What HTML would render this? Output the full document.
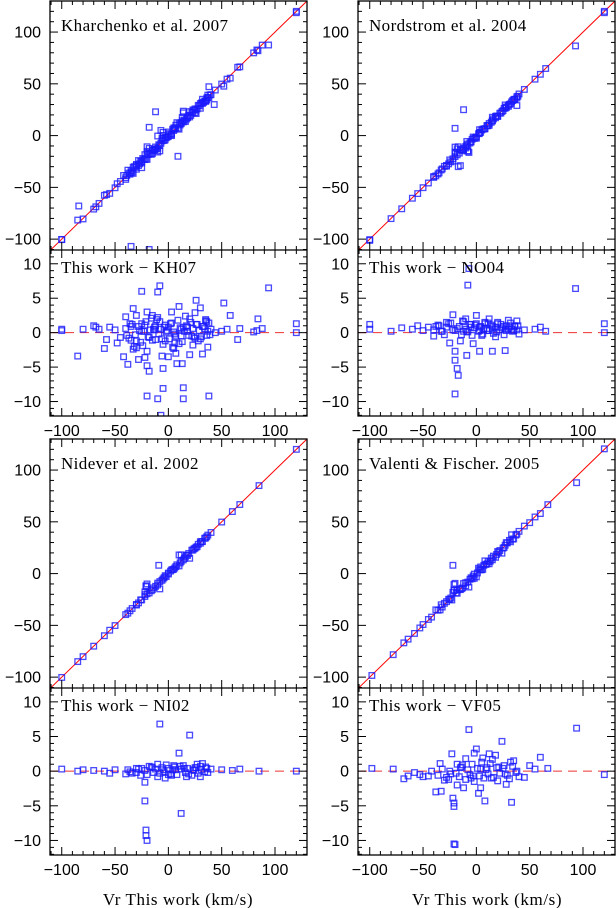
<!DOCTYPE html>
<html><head><meta charset="utf-8"><style>
html,body{margin:0;padding:0;background:#fff;}
svg{display:block;font-family:"Liberation Serif",serif;}
</style></head><body>
<svg id="chart" width="616" height="908" viewBox="0 0 616 908" xmlns="http://www.w3.org/2000/svg"></svg>
<script>
// ---- data ----
const xTicks = [-100, -50, 0, 50, 100];
const topTicks = [-100, -50, 0, 50, 100];
const resTicks = [-10, -5, 0, 5, 10];
const titles = ["Kharchenko et al. 2007", "Nordstrom et al. 2004", "Nidever et al. 2002", "Valenti & Fischer. 2005"];
const resTitles = ["This work − KH07", "This work − NO04", "This work − NI02", "This work − VF05"];

const kh07X = [-100,-100,-85,-80,-70,-68,-65,-60,-58,-55,-50,-48,-45,-42,-40,-38,-35,-33,-32,-30,-30,-28,-25,-25,-22,-20,-20,-20,-18,-15,-13,-12,-10,-8,-10,-7,-6,-5,-5,-3,0,3,5,7,8,10,12,13,14,14,18,20,23,25,26,30,32,35,37,38,40,44,52,50,55,58,65,67,80,83,84,88,94,120,120,
 -40,-37,-34,-31,-28,-26,-23,-21,-19,-17,-15,-13,-11,-9,-7,-5,-3,-1,1,3,5,7,9,11,13,15,17,19,21,23,25,27,29,31,33,35,37,39,-36,-24,-16,-4,6,16,28,36,
 -39,-35,-30,-27,-22,-18,-14,-10,-6,-2,2,6,10,14,18,22,26,30,34,38,-33,-25,-20,-12,-8,0,4,12,20,24,32,36];
const kh07R = [0.5,0.3,-3.4,0.5,1,0.8,0.5,-2.3,-1,0.8,0.4,-1.5,-0.7,-3.5,2.3,-4.6,-1.1,3.5,-2,-2.2,2.5,-3.9,6,1.3,-3.6,-4.8,-2.7,-9.2,-5.6,2.5,0.4,1,5.9,6.8,-9.6,-12,-3.4,-8.1,-5.2,-1.2,-3.5,3,-2.3,-3,-4.5,3.8,-0.5,-4.5,-8,-9.6,0.8,-3.2,-1.8,2.9,4.7,3.6,-3.1,1.9,-2.1,-9.2,0.5,0,4.3,0.2,0.5,2.5,-1,0.6,0.1,0.3,2,0.6,6.5,1.3,0,
 0.6,-0.8,1.2,-0.3,0.9,-1.4,0.2,1.6,-0.6,0.4,-1.1,0.8,1.9,-0.2,0.5,-1.7,1.1,0.3,-0.9,1.4,0.1,-0.5,1.8,0.7,-1.3,0.2,1,-0.4,1.5,0.6,-0.8,1.2,0.3,-0.6,0.9,1.7,0.2,-0.3,1.3,-1.9,2.1,0.8,-1.5,2.4,-1.2,1.6,
 -0.4,0.9,-1.2,0.3,1.1,-0.7,0.5,2.2,-0.9,0.1,1.3,-0.2,-1.6,0.8,0.2,-0.5,1.2,-0.9,0.6,1.4,-2.4,0.2,3,-1,1.6,0.8,-2.1,0.5,2,-0.6,0.9,-0.4];
const kh07OutX = [-84,-12,-18,9,43,-35,-18];
const kh07OutY = [-68,23,8,-20,30,-107,-110];

const no04X = [-100,-100,-80,-70,-60,-55,-50,-45,-40,-35,-30,-28,-25,-22,-20,-20,-18,-17,-20,-15,-12,-10,-8,-7,-5,-3,0,3,5,8,10,12,15,18,20,25,28,30,33,36,38,40,45,55,60,65,93,120,120,
 -40,-36,-32,-28,-24,-20,-16,-14,-12,-10,-8,-6,-4,-2,0,2,4,6,8,10,12,14,16,18,20,22,24,26,28,30,32,34,36,38,-9,3,15,27,
 -38,-33,-26,-22,-18,-13,-9,-5,-1,3,7,11,15,19,23,27,31,35,39];
const no04R = [0.5,1.2,0.2,0.7,0.5,1,0.3,0.8,-0.5,1,-0.3,1.5,-1.5,0.4,-2.7,-4,-5.2,-6.2,-8.9,-1.2,0.2,2,6.9,9.3,1.2,-1.6,2.5,0.8,-0.4,1.3,0.3,2,0.5,-0.6,1.5,0.9,0.3,1.8,0.5,1,0.4,-0.2,0.4,0.5,0.8,0.2,6.4,1.3,0,
 0.4,1.1,0.2,0.8,1.4,0.3,0.9,-0.3,1.6,0.5,0.1,1.2,-0.4,0.7,1.3,0.2,0.9,-0.2,1.5,0.6,0.3,1.1,-0.1,0.8,1.3,0.4,0.7,-0.3,1,0.5,1.4,0.2,0.9,1.7,-3.3,-2.7,-2.7,-2.6,
 0.9,0.2,1.3,2.6,0.6,1.7,0.2,0.8,1.1,0.3,0.6,1.4,0.9,0.1,1.2,0.5,0.8,0.3,1];
const no04OutX = [-12,-20,-17,-15,-8,38];
const no04OutY = [25,7,-30,-29,-15,29];

const ni02X = [-100,-85,-80,-70,-60,-55,-50,-40,-30,-25,-22,-22,-21,-21,-20,-15,-10,-8,-5,-3,0,5,10,12,15,17,20,23,27,30,35,40,50,60,67,85,120,
 -38,-34,-30,-26,-22,-18,-14,-12,-10,-6,-4,-2,2,4,6,8,12,14,16,18,22,24,26,28,30,32,34,36,
 -36,-28,-20,-16,-8,0,3,7,11,19,25,31,37];
const ni02R = [0.3,0,0.2,0.1,0,-0.3,0.2,-0.4,-0.2,0.4,-1.6,-4.3,-8.5,-9.3,-10,0.5,1,6.8,0.2,-1,-0.5,0.8,2.6,-6.1,0.4,-0.8,5.2,0.2,1,-0.8,0.6,0.3,0.2,0.1,0.3,0,0,
 0.2,-0.3,0.4,-0.6,0.1,0.7,-0.2,0.3,-0.8,0.5,-0.1,0.9,-0.4,0.2,0.6,-0.5,0.3,0.8,-0.2,0.4,-0.6,0.1,0.5,-0.3,0.7,1.1,-0.1,0.4,
 -0.1,0.3,-0.5,0.6,-0.3,0.4,-0.6,0.2,0.7,-0.4,0.5,0.2,-0.2];
const ni02OutX = [-9,10];
const ni02OutY = [8,18];

const vf05X = [-98,-78,-68,-64,-58,-53,-50,-45,-42,-38,-34,-33,-30,-25,-23,-22,-21,-21,-21,-20,-18,-18,-15,-12,-10,-7,-5,-2,0,2,4,6,8,10,12,15,18,20,24,25,28,33,35,38,40,45,50,55,60,67,94,120,
 -36,-32,-28,-24,-16,-14,-10,-8,-6,-4,-2,1,3,5,7,9,11,13,16,19,22,26,29,31,34,37,
 -26,-19,-13,-3,4,14,21,27,32];
const vf05R = [0.4,0.3,-1.1,-0.7,-0.2,-0.5,-0.8,-0.7,0,-3,1.1,-2.9,-1.3,0,2.5,-3.9,-4.6,-5.1,-10.5,-10.6,1,-2,0.5,-2.4,1.8,6,-1,2.6,3.2,-3.2,-2.4,1.9,-4.3,0.5,2.5,1.7,2.3,-1.4,4.3,0.4,-1.9,-4.5,1.5,0,-0.8,-0.9,0.8,0.3,2,0.4,6.2,-0.5,
 -0.6,0.3,-0.9,-0.4,-0.8,0.6,-1.2,0.2,-0.5,1,-1.5,0.4,-0.7,1.3,-1,0.2,-0.4,1.1,-0.9,0.5,-0.3,0.8,-0.6,-1.1,0.7,-0.2,
 -1.2,-0.3,0.9,-0.7,0.3,-1,0.6,-0.4,1.3];
const vf05OutX = [-22];
const vf05OutY = [8];

const allX = [kh07X, no04X, ni02X, vf05X];
const allR = [kh07R, no04R, ni02R, vf05R];
const allOutX = [kh07OutX, no04OutX, ni02OutX, vf05OutX];
const allOutY = [kh07OutY, no04OutY, ni02OutY, vf05OutY];

// ---- drawing ----
const NS = "http://www.w3.org/2000/svg";
const svg = document.getElementById("chart");
function mk(tag, attrs, parent) {
  const e = document.createElementNS(NS, tag);
  for (const k in attrs) e.setAttribute(k, attrs[k]);
  (parent || svg).appendChild(e);
  return e;
}
const XMIN = -111, XMAX = 130, TMIN = -110.5, TMAX = 130, RMIN = -12.1, RMAX = 12;
const cols = [{l: 50, r: 307}, {l: 358, r: 615}];
const rows = [{t: 1, m: 250, b: 416}, {t: 439, m: 688, b: 855}];
const fmt = v => (v < 0 ? "−" + Math.abs(v) : "" + v);
const SANS = '"Liberation Sans", sans-serif';

for (let p = 0; p < 4; p++) {
  const c = cols[p % 2], r = rows[Math.floor(p / 2)];
  const g = mk("g", {});
  
  
  const sx = v => c.l + (v - XMIN) / (XMAX - XMIN) * (c.r - c.l);
  const sy = v => r.m - (v - TMIN) / (TMAX - TMIN) * (r.m - r.t);
  const sr = v => r.b - (v - RMIN) / (RMAX - RMIN) * (r.b - r.m);

  const cpT = mk("clipPath", {id: "ct" + p}, g);
  mk("rect", {x: c.l, y: r.t, width: c.r - c.l, height: r.m - r.t}, cpT);
  const cpR = mk("clipPath", {id: "cr" + p}, g);
  mk("rect", {x: c.l, y: r.m, width: c.r - c.l, height: r.b - r.m}, cpR);

  const ol = mk("line", {x1: sx(XMIN), y1: sy(XMIN), x2: sx(XMAX), y2: sy(XMAX), stroke: "#f00", "stroke-width": 1, "clip-path": "url(#ct" + p + ")"}, g);
  
  
  const zl = mk("line", {x1: c.l, y1: sr(0), x2: c.r, y2: sr(0), stroke: "#e33", "stroke-width": 1, "stroke-dasharray": "9,6"}, g);
  
  

  const xs = allX[p], rs = allR[p];
  const gt = mk("g", {"clip-path": "url(#ct" + p + ")"}, g);
  const gr = mk("g", {"clip-path": "url(#cr" + p + ")"}, g);
  const sq = (parent, x, y, name) => {
    const s = mk("rect", {x: x - 2.8, y: y - 2.8, width: 5.6, height: 5.6, fill: "none", stroke: "#1a1aff", "stroke-opacity": 0.8, "stroke-width": 1.3}, parent);
    
    
  };
  for (let i = 0; i < xs.length; i++) {
    sq(gt, sx(xs[i]), sy(xs[i] - rs[i]), 'comparison-point');
    sq(gr, sx(xs[i]), sr(rs[i]), 'residual-point');
  }
  const ox = allOutX[p], oy = allOutY[p];
  for (let i = 0; i < ox.length; i++) sq(gt, sx(ox[i]), sy(oy[i]), 'outlier-point');

  mk("rect", {x: c.l, y: r.t, width: c.r - c.l, height: r.b - r.t, fill: "none", stroke: "#000", "stroke-width": 1.3}, g);
  mk("line", {x1: c.l, y1: r.m, x2: c.r, y2: r.m, stroke: "#000", "stroke-width": 1.3}, g);

  for (let v = -110; v <= 130; v += 10) {
    const X = sx(v), big = v % 50 === 0 ? 8 : 4;
    [[r.t, 1], [r.m, 1], [r.m, -1], [r.b, -1]].forEach(([yy, d]) => {
      mk("line", {x1: X, y1: yy, x2: X, y2: yy + d * big, stroke: "#000", "stroke-width": 1}, g);
    });
  }
  for (let v = -110; v <= 130; v += 10) {
    const Y = sy(v), big = v % 50 === 0 ? 8 : 4;
    mk("line", {x1: c.l, y1: Y, x2: c.l + big, y2: Y, stroke: "#000"}, g);
    mk("line", {x1: c.r, y1: Y, x2: c.r - big, y2: Y, stroke: "#000"}, g);
  }
  for (let v = -12; v <= 12; v += 1) {
    const Y = sr(v), big = v % 5 === 0 ? 8 : 4;
    mk("line", {x1: c.l, y1: Y, x2: c.l + big, y2: Y, stroke: "#000"}, g);
    mk("line", {x1: c.r, y1: Y, x2: c.r - big, y2: Y, stroke: "#000"}, g);
  }
  topTicks.forEach(v => {
    const t = mk("text", {x: c.l - 9, y: sy(v) + 5.5, "text-anchor": "end", "font-size": 16, "font-family": SANS}, g);
    t.textContent = fmt(v);
    
    
  });
  resTicks.forEach(v => {
    const t = mk("text", {x: c.l - 9, y: sr(v) + 5.5, "text-anchor": "end", "font-size": 16, "font-family": SANS}, g);
    t.textContent = fmt(v);
    
    
  });
  xTicks.forEach(v => {
    const t = mk("text", {x: sx(v), y: r.b + 20, "text-anchor": "middle", "font-size": 16, "font-family": SANS}, g);
    t.textContent = fmt(v);
    
    
  });
  const tt = mk("text", {x: c.l + 11, y: r.t + 30, "font-size": 17, "letter-spacing": "0.4"}, g);
  tt.textContent = titles[p];
  
  
  const rt = mk("text", {x: c.l + 11, y: r.m + 23, "font-size": 17, "letter-spacing": "0.4"}, g);
  rt.textContent = resTitles[p];
  
  
}
[178, 487].forEach(x => {
  const t = mk("text", {x: x, y: 905, "text-anchor": "middle", "font-size": 17, "letter-spacing": "0.6"});
  t.textContent = "Vr This work (km/s)";
  
  
});
</script>
</body></html>
